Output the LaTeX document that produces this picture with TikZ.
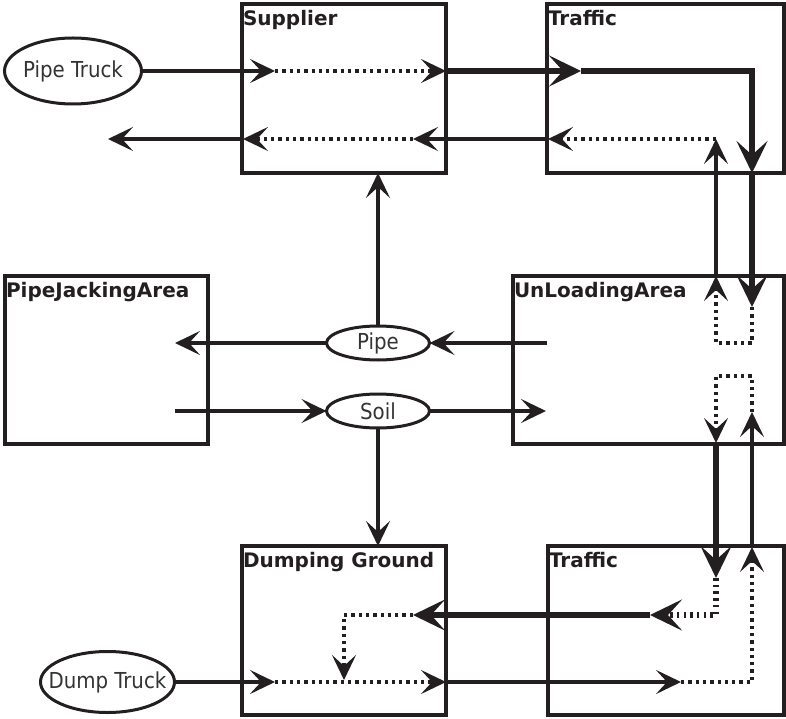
\documentclass[tikz,border=0pt]{standalone}
\usepackage{fontspec}
\setmainfont{DejaVu Sans}
\newfontfamily\ovalfont{DejaVu Sans Condensed}
\usetikzlibrary{arrows.meta,shapes.geometric}
\definecolor{ink}{HTML}{231F20}
\definecolor{softink}{HTML}{333333}

\begin{document}
\begin{tikzpicture}[x=1pt,y=-1pt,
  every node/.style={inner sep=0pt, outer sep=0pt},
  area/.style={draw=ink, line width=3.3pt, rectangle},
  areatitle/.style={anchor=base west, text=ink, font=\bfseries\fontsize{20}{22}\selectfont},
  oval/.style={draw=ink, line width=3pt, ellipse, text=softink,
    font=\ovalfont\fontsize{22}{24}\selectfont},
  flow/.style={draw=ink, line width=3.2pt, -{Stealth[length=25pt,width=24pt,inset=11pt]}},
  dotflow/.style={flow, dash pattern=on 3.3pt off 4pt},
  heavy/.style={draw=ink, line width=6.5pt, -{Stealth[length=32pt,width=31pt,inset=14pt]}},
  heavydot/.style={heavy, dash pattern=on 2.5pt off 4.2pt},
]
\useasboundingbox (0,0) rectangle (786,719);

% ---- areas ----
\node[area, minimum width=204pt, minimum height=169pt] (supplier)  at (344,88.5)  {};
\node[area, minimum width=237pt, minimum height=169pt] (traffictop) at (665.5,88.5) {};
\node[area, minimum width=203pt, minimum height=168pt] (jacking)   at (106.5,360) {};
\node[area, minimum width=271pt, minimum height=168pt] (unloading) at (648.5,360) {};
\node[area, minimum width=204pt, minimum height=169pt] (dumping)   at (344,630.5) {};
\node[area, minimum width=236pt, minimum height=169pt] (trafficbot) at (666,630.5) {};

\node[areatitle] (supplierT)   at (243,26)  {Supplier};
\node[areatitle] (traffictopT) at (548,26)  {Traffic};
\node[areatitle] (jackingT)    at (6,297)   {PipeJackingArea};
\node[areatitle] (unloadingT)  at (514,297) {UnLoadingArea};
\node[areatitle] (dumpingT)    at (243,567) {Dumping Ground};
\node[areatitle] (trafficbotT) at (549,567) {Traffic};

% ---- ovals ----
\node[oval, minimum width=137pt, minimum height=66pt] (pipetruck) at (73,71)    {\makebox[0pt]{Pipe Truck}};
\node[oval, minimum width=134pt, minimum height=61pt] (dumptruck) at (107.5,682) {\makebox[0pt]{Dump Truck}};
\node[oval, minimum width=103pt, minimum height=34pt] (pipe) at (378,343) {\makebox[0pt]{Pipe}};
\node[oval, minimum width=103pt, minimum height=34pt] (soil) at (378,411) {\makebox[0pt]{Soil}};

% ---- route points ----
\coordinate (sIn)    at (275,71);
\coordinate (sOut)   at (446,71);
\coordinate (tIn)    at (581,71);
\coordinate (tDown)  at (752,173);
\coordinate (uIn)    at (752,307);
\coordinate (uTurn)  at (716,343);
\coordinate (uOut)   at (716,276);
\coordinate (tRet)   at (716,139);
\coordinate (tExit)  at (548,139);
\coordinate (sRet)   at (413,139);
\coordinate (sExit)  at (243,139);
\coordinate (away)   at (108,139);
\coordinate (uPipe)  at (547,343);
\coordinate (jIn)    at (175,343);
\coordinate (jOut)   at (175,411);
\coordinate (uSoil)  at (546,411);
\coordinate (dIn)    at (275,682);
\coordinate (dOut)   at (446,682);
\coordinate (bIn)    at (681,682);
\coordinate (bUp)    at (752,547);
\coordinate (uBack)  at (752,412);
\coordinate (uLoop)  at (716,376);
\coordinate (uLeave) at (716,443);
\coordinate (bDown)  at (716,578);
\coordinate (bTurn)  at (650,615);
\coordinate (dRet)   at (413,615);
\coordinate (dDrop)  at (344,680);

% ---- pipe delivery loop ----
\draw[flow]    (pipetruck.east) -- (sIn);
\draw[dotflow] (sIn) -- (sOut);
\draw[heavy]   (sOut) -- (tIn);
\draw[heavy]   (tIn) -| (tDown);
\draw[heavy]   (tDown) -- (uIn);
\draw[dotflow] (uIn) |- (uTurn) -- (uOut);
\draw[flow]    (uOut) -- (tRet);
\draw[dotflow] (tRet) -- (tExit);
\draw[flow]    (tExit) -- (sRet);
\draw[dotflow] (sRet) -- (sExit);
\draw[flow]    (sExit) -- (away);

% ---- material exchange ----
\draw[flow] (uPipe) -- (pipe.east);
\draw[flow] (pipe.west) -- (jIn);
\draw[flow] (pipe.north) -- (pipe.north |- supplier.south);
\draw[flow] (jOut) -- (soil.west);
\draw[flow] (soil.east) -- (uSoil);
\draw[flow] (soil.south) -- (soil.south |- dumping.north);

% ---- soil removal loop ----
\draw[flow]     (dumptruck.east) -- (dIn);
\draw[dotflow]  (dIn) -- (dOut);
\draw[flow]     (dOut) -- (bIn);
\draw[dotflow]  (bIn) -| (bUp);
\draw[flow]     (bUp) -- (uBack);
\draw[dotflow]  (uBack) |- (uLoop) -- (uLeave);
\draw[heavy]    (uLeave) -- (bDown);
\draw[heavydot] (bDown) |- (bTurn);
\draw[heavy]    (bTurn) -- (dRet);
\draw[dotflow]  (dRet) -| (dDrop);
\end{tikzpicture}
\end{document}
